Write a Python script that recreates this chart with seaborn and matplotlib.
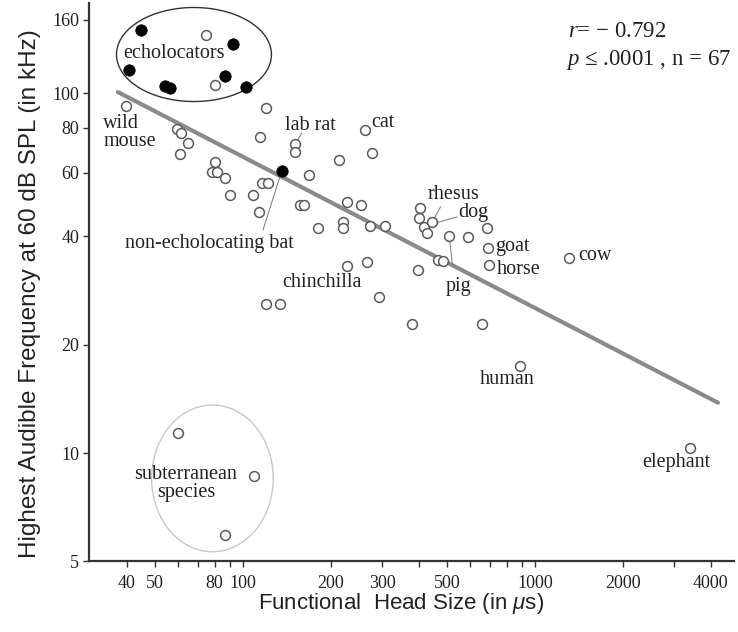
import numpy as np
import pandas as pd
import matplotlib
matplotlib.use("Agg")
import matplotlib.pyplot as plt
import seaborn as sns
from matplotlib.ticker import FixedLocator, FixedFormatter, NullFormatter

# ---------------- data ----------------
echo_x = [44.6, 92.2, 40.8, 86.8, 54.1, 56.2, 102.4]
echo_y = [150.0, 137.0, 116.0, 111.5, 104.6, 103.1, 103.7]
bat_x = [135.7]
bat_y = [60.7]

open_x = [39.7, 119.9, 74.7, 80.2, 59.4, 61.3, 64.8, 60.9, 114.3, 150.7,
          150.7, 80.2, 78.1, 81.3, 86.8, 168.7, 115.9, 122.1, 90.3, 108.5,
          156.7, 161.8, 113.7, 261.7, 275.9, 213.8, 227.6, 253.0, 220.6, 219.5,
          181.1, 272.2, 306.4, 403.9, 401.6, 416.8, 425.7, 442.9, 508.7, 590.9,
          683.3, 692.0, 697.5, 466.6, 483.1, 398.5, 265.2, 227.1, 292.9, 119.9,
          133.8, 1307.5, 380.6, 658.4, 888.5, 3395.0, 60.0, 109.1, 86.8]
open_y = [92.3, 91.1, 145.0, 105.0, 79.4, 77.4, 72.6, 67.7, 75.6, 72.0,
          68.7, 64.4, 60.4, 60.2, 57.9, 59.2, 56.1, 56.1, 52.1, 52.1,
          48.9, 48.9, 46.6, 78.9, 68.0, 65.2, 49.9, 48.9, 43.9, 42.1,
          42.1, 42.7, 42.7, 47.8, 44.9, 42.5, 40.8, 43.9, 40.1, 39.9,
          42.1, 37.0, 33.3, 34.4, 34.2, 32.2, 33.9, 33.1, 27.2, 25.9,
          25.9, 34.9, 22.9, 22.9, 17.5, 10.3, 11.4, 8.63, 5.92]

fit_x = [37.3, 4235.0]
fit_y = [100.6, 13.8]

x_ticks = [40, 50, 80, 100, 200, 300, 500, 1000, 2000, 4000]
x_minor = [60, 70, 90, 400, 600, 700, 800, 900, 3000]
y_ticks = [5, 10, 20, 40, 60, 80, 100, 160]

label_text = ["echolocators", "wild\nmouse", "lab rat", "cat", "non-echolocating bat",
              "chinchilla", "rhesus", "dog", "pig", "goat", "horse", "cow",
              "human", "elephant", "subterranean\nspecies"]
label_x = [38.8, 33.2, 139.3, 274.3, 39.4, 136.0, 430.0, 544.9, 495.6, 729.5,
           741.2, 1404.0, 802.0, 3040.0, 63.8]
label_y = [128.9, 77.9, 81.5, 82.7, 38.2, 29.7, 52.4, 46.5, 29.0, 37.4,
           32.4, 35.3, 16.0, 9.42, 8.25]
label_ha = ["left", "left", "left", "left", "left", "left", "left", "left", "left",
            "left", "left", "left", "center", "center", "center"]

# leader lines: (x0, y0) -> (x1, y1)
lead_x0 = [158.9, 117.1, 475.4, 541.9, 522.5]
lead_y0 = [77.3, 41.6, 48.3, 45.3, 32.9]
lead_x1 = [150.7, 135.7, 448.5, 454.6, 508.7]
lead_y1 = [72.0, 60.7, 44.4, 43.5, 40.1]

# ---------------- style ----------------
sns.set_style("ticks")
plt.rcParams['font.family'] = ['Liberation Serif', 'DejaVu Serif']
plt.rcParams['mathtext.fontset'] = 'custom'
plt.rcParams['mathtext.rm'] = 'Liberation Serif'
plt.rcParams['mathtext.it'] = 'Liberation Serif:italic'
plt.rcParams['mathtext.sf'] = 'Liberation Sans:italic'

fig = plt.figure(figsize=(7.38, 6.32), dpi=100)
ax = fig.add_axes([0.1206, 0.1116, 0.8738, 0.8839])
ax.set_xscale("log")
ax.set_yscale("log")

# regression line
fit_df = pd.DataFrame({"x": fit_x, "y": fit_y})
sns.lineplot(data=fit_df, x="x", y="y", ax=ax, color="#8a8a8a", linewidth=3.0,
             zorder=2, estimator=None, sort=False)

# ellipses (computed in log space)
t = np.linspace(0, 2 * np.pi, 300)
for cx, cy, a, b, col, lw in [(1.8322, 2.1069, 0.2654, 0.1306, "#333333", 1.0),
                              (1.8955, 0.9297, 0.2082, 0.2037, "#c8c8c8", 1.0)]:
    ax.plot(10 ** (cx + a * np.cos(t)), 10 ** (cy + b * np.sin(t)), color=col,
            linewidth=lw, zorder=1)

# leader lines
for x0, y0, x1, y1 in zip(lead_x0, lead_y0, lead_x1, lead_y1):
    ax.plot([x0, x1], [y0, y1], color="#777777", linewidth=0.7, zorder=1)

# points
open_df = pd.DataFrame({"x": open_x, "y": open_y})
sns.scatterplot(data=open_df, x="x", y="y", ax=ax, s=50, facecolor="white",
                edgecolor="#5a5a5a", linewidth=1.1, zorder=3)
filled_df = pd.DataFrame({"x": echo_x + bat_x, "y": echo_y + bat_y})
sns.scatterplot(data=filled_df, x="x", y="y", ax=ax, s=68, color="black",
                edgecolor="black", linewidth=0.5, zorder=4)

# labels
for txt, lx, ly, ha in zip(label_text, label_x, label_y, label_ha):
    ax.text(lx, ly, txt, ha=ha, va="center", fontsize=14.5, color="#222222",
            linespacing=0.92, zorder=5)

# stats text
ax.text(0.743, 0.949, r"$r$= − 0.792", transform=ax.transAxes, fontsize=16.5,
        ha="left", va="center", color="#222222")
ax.text(0.740, 0.898, r"$p$ ≤ .0001 , n = 67", transform=ax.transAxes, fontsize=16.5,
        ha="left", va="center", color="#222222")

# axes
ax.set_xlim(29.7, 4800)
ax.set_ylim(5, 178)
ax.xaxis.set_major_locator(FixedLocator(x_ticks))
ax.xaxis.set_major_formatter(FixedFormatter([str(v) for v in x_ticks]))
ax.xaxis.set_minor_locator(FixedLocator(x_minor))
ax.xaxis.set_minor_formatter(NullFormatter())
ax.yaxis.set_major_locator(FixedLocator(y_ticks))
ax.yaxis.set_major_formatter(FixedFormatter([str(v) for v in y_ticks]))
ax.yaxis.set_minor_locator(FixedLocator([]))
ax.tick_params(axis="both", which="both", direction="out", length=4, width=1,
               color="#333333", labelsize=13, labelcolor="#222222")
ax.tick_params(axis="x", pad=6)
ax.tick_params(axis="y", pad=3)
for s in ["top", "right"]:
    ax.spines[s].set_visible(False)
for s in ["left", "bottom"]:
    ax.spines[s].set_linewidth(1.6)
    ax.spines[s].set_color("#333333")

ax.set_xlabel(r"Functional  Head Size (in $\mathsf{\mu}$s)", fontsize=16,
              fontfamily="Liberation Sans", color="#222222")
ax.xaxis.set_label_coords(0.484, -0.053)
ax.set_ylabel("Highest Audible Frequency at 60 dB SPL (in kHz)", fontsize=17.5,
              fontfamily="Liberation Sans", color="#222222")
ax.yaxis.set_label_coords(-0.074, 0.48)

fig.savefig("out.png", dpi=100)
